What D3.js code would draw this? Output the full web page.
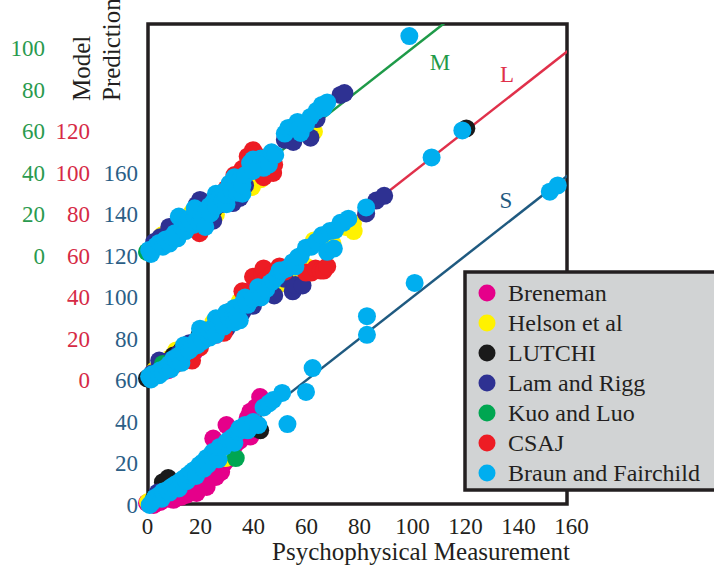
<!DOCTYPE html>
<html>
<head>
<meta charset="utf-8">
<script src="https://cdn.jsdelivr.net/npm/d3@7"></script>
<style>
  body { margin: 0; background: #fff; }
  svg { display: block; font-family: "Liberation Serif", "Times New Roman", "DejaVu Serif", "Noto Serif", serif; }
</style>
</head>
<body>
<svg id="chart" width="714" height="574"></svg>
<script>
// tick labels of the three stacked model-prediction scales
var ticksM = [0, 20, 40, 60, 80, 100],
    ticksL = [0, 20, 40, 60, 80, 100, 120],
    ticksS = [0, 20, 40, 60, 80, 100, 120, 140, 160],
    ticksX = [0, 20, 40, 60, 80, 100, 120, 140, 160];

// perfect-prediction line, measured == predicted
var unity = [0, 160];

// [psychophysical measurement, model prediction] for each cone channel
var breneman = {
  S: [[0,1],[2.5,0],[5,1.5],[8,3],[10,2.5],[11,4.5],[13,4],[15,5],[16,8],[17,8],[18.7,5.8],[20,12],[21,10],[22.5,8.7],[23,12],[24,15.5],[24,20],[25,32],[26,13.5],[27.4,18.3],[28,16],[28,27],[29,20],[30,21.7],[30,38.5],[31,25],[32,30],[33,28.5],[35,31],[37,38],[38,42],[39,33],[39,45],[41,39],[41,47],[42.7,52],[44,50]],
  L: [[6,6],[8,5],[12,9],[14,10],[18,14],[20,18],[22,20],[26,22],[28.6,25.5],[31,29],[33,31],[35,34.5],[37.7,37.6],[39,40],[40,44],[41,43],[42.7,40],[44,45]],
  M: [[12,14],[15,14.5],[28,26],[31,31]]
};
var helson = {
  S: [[0.4,1.4],[29.7,22.6],[35,36]],
  L: [[3,5],[9,11],[11,14.5],[15,17],[20,21],[25,28],[30,28],[35,38],[47,43],[48,45],[51,47],[55,52],[57,49.6],[58.7,49.6],[60,55],[63,67.5],[65,67.5],[70,66],[75,74],[77.7,75.7],[78,72]],
  M: [[5.7,10],[9,12],[12.2,17.3],[17,21],[21,24.5],[26,20],[30,31],[34,29],[38,40],[39.6,33.3],[40,47],[43,37],[58,63],[62.5,65.5],[63,60],[64,68]]
};
var lutchi = {
  S: [[2.7,3.4],[6,11],[8,13],[42.7,36]],
  L: [[0,1],[5,7.5],[10,12],[13,14.5],[19.8,21.7],[22,24],[26,26],[31,33],[120.5,121.5]],
  M: [[14,14],[25,22]]
};
var lamRigg = {
  S: [[4,6]],
  L: [[2,3.5],[4.6,9.6],[7,9],[12,13],[16,18],[24,24.5],[30,25],[36,33],[40,36],[48,41],[52,49],[55,43],[56,46],[58.7,45.8],[82.7,80.5],[86.5,86.7],[89.5,89]],
  M: [[2.7,6.7],[5,9],[8.4,14],[10,8.5],[14,17],[18.7,24.6],[20,27],[23,25],[25,17],[28,25],[32.4,25.5],[35,28],[37,34],[45.3,40.5],[52,56],[55.2,55],[61.7,57],[64,66],[73,77.6],[74.5,78.5]]
};
var kuoLuo = {
  S: [[33.5,22.6]],
  L: [[6,8]],
  M: [[0,2]]
};
var csaj = {
  S: [],
  L: [[8,7],[11,8],[14,10.5],[17,9.6],[20,16],[29,23],[36,43],[38,41],[40,50],[43.4,52],[44,54],[45,49],[47,51],[50,55],[52,52.5],[60,52],[62,52],[63.6,54],[65.5,53],[66.7,53],[68,55]],
  M: [[19.8,11],[22,20],[30,32.5],[33,39],[36,42],[38,48],[40,51],[41,49],[42,44],[44,38],[47.6,40],[48,44]]
};
var braun = {
  S: [[1,0],[2,1.5],[3,3.5],[4.6,4.8],[5.5,3],[6,6.5],[7.6,7.2],[8.5,6],[9,8.5],[10.3,9.6],[11.5,10.5],[12,8],[13,12],[14.1,13],[15,11.5],[15.5,14.5],[16.8,15.9],[18,17],[18.5,14],[19.8,19.3],[21,20.5],[21.5,17.5],[22.5,22.7],[23,19.5],[24,23.5],[24.8,25.5],[26,25],[27,22],[27.4,28],[29,28],[30,30.4],[31,31.5],[32.4,32.8],[33,30],[34.3,35.2],[35,37],[37,38.6],[38,36],[40,40],[42,38.5],[44,47],[46,49],[47.6,50.6],[51,54],[53,39],[60,54.5],[62.5,66],[83,82],[83,91],[101,107],[152,151],[155,154]],
  L: [[0.8,1.9],[1.5,0.5],[2,3],[3.4,3.4],[4.5,2.5],[5,5],[6,4],[7.2,6.3],[8.5,8],[9,5.5],[10,10.5],[11,9.6],[12,12],[13,8.5],[14,13],[14,17],[15,16],[16,14.5],[17,16],[18.7,19.3],[19,17],[20,22],[20,25],[21,19],[22,23],[23.6,20.7],[23.6,24],[25,25.5],[26,22],[26,30],[27,27],[28,29.5],[29,26],[30,32.8],[31,30],[32.4,32],[33,35],[33,28],[34,31],[35,29],[36,37],[37,40],[38,36.5],[40,39.5],[42,45],[43,40],[45,44],[46.5,47],[47.6,48],[49,50],[50,53],[51,53],[53,54],[55,57],[56,55],[57,59.5],[58,60],[60,64],[62,64.5],[64,67],[66,70],[68,62],[69,72],[70.5,63.6],[71,72.5],[73,76],[74,76],[76,78],[82.7,83.4],[107.4,107.5],[119,120.5]],
  M: [[0.8,2.9],[1.5,1],[2.5,3.5],[3.5,5],[4.6,6.3],[6,4.5],[7,8],[8.5,6],[9.5,9.2],[10.5,11],[11.5,8.5],[12,19],[13.3,14],[14.5,12],[15,16],[16,18],[17.5,15],[18,19],[18,23],[19.8,16],[20.5,20],[21,17.5],[22,14],[22.5,22],[23.5,24],[24,20.5],[25,26],[26,24],[26,30],[27.4,28.4],[28.5,27],[29,31],[30,25],[30,29.5],[31.2,35],[32,31.5],[33,38],[33.5,34],[34,30.5],[35,36.6],[36,30],[36,34],[37,39],[38.9,44.8],[40,41],[40,46.5],[42,43],[43,47],[44,42.5],[45.3,46],[46,44],[47,50],[48.4,48.7],[52,59],[53.3,61.7],[55,62],[56.8,64.6],[57,61],[58,59.3],[60,63.5],[61.7,67],[64,70],[66,72.8],[66.7,71.3],[68,74],[99,106]]
};

var datasets = [
  {name: "Breneman", color: "#e5008a", data: breneman},
  {name: "Helson et al", color: "#fff200", data: helson},
  {name: "LUTCHI", color: "#1a1a1a", data: lutchi},
  {name: "Lam and Rigg", color: "#2e3192", data: lamRigg},
  {name: "Kuo and Luo", color: "#00a651", data: kuoLuo},
  {name: "CSAJ", color: "#ed1c24", data: csaj},
  {name: "Braun and Fairchild", color: "#00aeef", data: braun}
];

var svg = d3.select("#chart"),
    frame = {left: 148, right: 567, top: 24, bottom: 504},
    ink = "#231f20",
    serif = "'Liberation Serif', 'Times New Roman', 'DejaVu Serif', 'Noto Serif', serif";

var x = d3.scaleLinear().domain([0, 160]).range([147, 571]),
    yS = d3.scaleLinear().domain([0, 160]).range([505, 173]),
    yL = d3.scaleLinear().domain([0, 120]).range([380.5, 131.5]),
    yM = d3.scaleLinear().domain([0, 100]).range([256, 48.5]);

var channels = [
  {key: "S", y: yS, color: "#1f5a80", label: "S", lx: 506, ly: 208},
  {key: "L", y: yL, color: "#e0304a", label: "L", lx: 507, ly: 82},
  {key: "M", y: yM, color: "#1e9a48", label: "M", lx: 440, ly: 70}
];

svg.append("clipPath").attr("id", "plotClip")
  .append("rect")
    .attr("x", frame.left).attr("y", frame.top)
    .attr("width", frame.right - frame.left)
    .attr("height", frame.bottom - frame.top);

// frame
svg.append("rect")
  .attr("x", frame.left).attr("y", frame.top)
  .attr("width", frame.right - frame.left)
  .attr("height", frame.bottom - frame.top)
  .attr("fill", "none").attr("stroke", ink).attr("stroke-width", 3.5);

// unity lines
channels.forEach(function(c) {
  svg.append("line")
    .attr("clip-path", "url(#plotClip)")
    .attr("x1", x(unity[0])).attr("y1", c.y(unity[0]))
    .attr("x2", x(unity[1])).attr("y2", c.y(unity[1]))
    .attr("stroke", c.color).attr("stroke-width", 2.5);

  svg.append("text")
    .attr("x", c.lx).attr("y", c.ly)
    .attr("text-anchor", "middle")
    .attr("font-family", serif)
    .attr("font-size", 23)
    .attr("fill", c.color)
    .text(c.label);
});

// points, drawn dataset by dataset so Braun and Fairchild ends on top
datasets.forEach(function(ds) {
  var g = svg.append("g").attr("fill", ds.color);
  channels.forEach(function(c) {
    g.selectAll(null)
      .data(ds.data[c.key])
      .enter().append("circle")
        .attr("cx", function(d) { return x(d[0]); })
        .attr("cy", function(d) { return c.y(d[1]); })
        .attr("r", 9);
  });
});

// y axes, one coloured column per channel
function yAxis(scale, ticks, xPos, color) {
  var g = svg.append("g")
    .attr("transform", "translate(" + xPos + ",0)")
    .call(d3.axisLeft(scale).tickValues(ticks).tickSize(0).tickPadding(0));
  g.select(".domain").remove();
  g.selectAll("text")
    .attr("font-family", serif)
    .attr("font-size", 23)
    .attr("fill", color);
}
yAxis(yM, ticksM, 45, "#2a9a4e");
yAxis(yL, ticksL, 90, "#d62a45");
yAxis(yS, ticksS, 138, "#2b5e86");

// x axis
var xg = svg.append("g")
  .attr("transform", "translate(0,518)")
  .call(d3.axisBottom(x).tickValues(ticksX).tickSize(0).tickPadding(0));
xg.select(".domain").remove();
xg.selectAll("text")
  .attr("dy", "0.71em")
  .attr("font-family", serif)
  .attr("font-size", 23)
  .attr("fill", ink);

svg.append("text")
  .attr("x", 421).attr("y", 560)
  .attr("text-anchor", "middle")
  .attr("font-family", serif)
  .attr("font-size", 25)
  .attr("fill", ink)
  .text("Psychophysical Measurement");

svg.append("text")
  .attr("transform", "translate(90,101) rotate(-90)")
  .attr("font-family", serif)
  .attr("font-size", 25)
  .attr("fill", ink)
  .text("Model");
svg.append("text")
  .attr("transform", "translate(120,101) rotate(-90)")
  .attr("font-family", serif)
  .attr("font-size", 25)
  .attr("fill", ink)
  .text("Prediction");

// legend
var legend = svg.append("g").attr("transform", "translate(465,272)");
legend.append("rect")
  .attr("width", 270).attr("height", 218)
  .attr("fill", "#d1d3d4").attr("stroke", ink).attr("stroke-width", 3.5);
var item = legend.selectAll("g.item")
  .data(datasets)
  .enter().append("g")
    .attr("class", "item")
    .attr("transform", function(d, i) { return "translate(0," + (21 + i * 30) + ")"; });
item.append("circle")
  .attr("cx", 22).attr("r", 8.5)
  .attr("fill", function(d) { return d.color; });
item.append("text")
  .attr("x", 43).attr("dy", "0.35em")
  .attr("font-family", serif)
  .attr("font-size", 24)
  .attr("fill", ink)
  .text(function(d) { return d.name; });
</script>
</body>
</html>
